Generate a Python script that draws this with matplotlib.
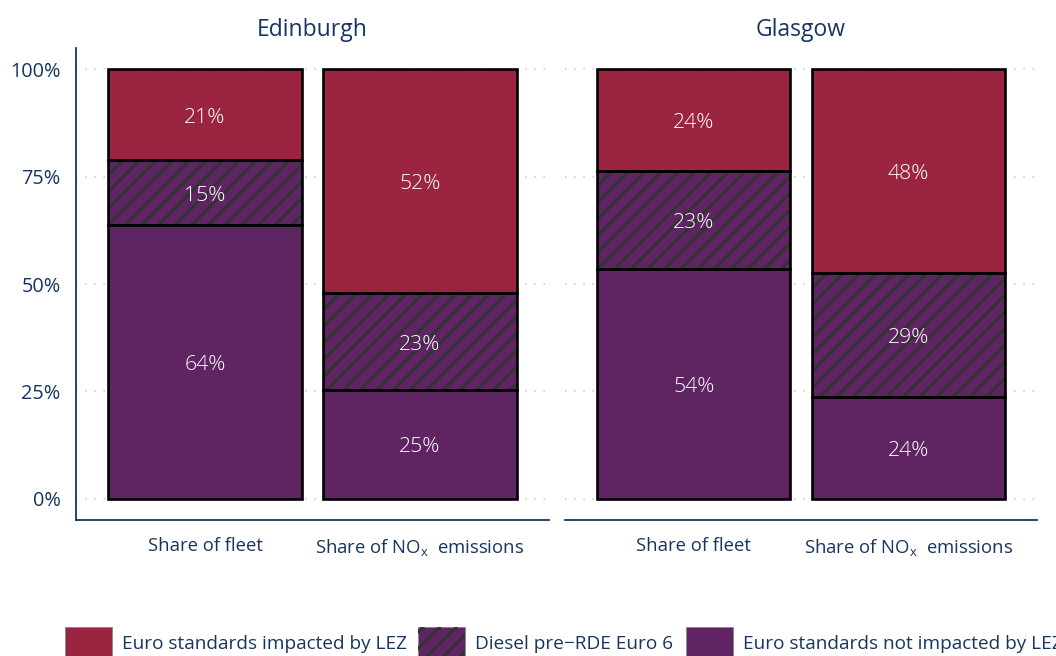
import matplotlib
matplotlib.use("Agg")
import matplotlib.pyplot as plt
from matplotlib.patches import Rectangle
import numpy as np

plt.rcParams['font.family'] = ['Open Sans', 'DejaVu Sans']
plt.rcParams['hatch.linewidth'] = 2.2

# ---- data ----
cities = ["Edinburgh", "Glasgow"]
categories = ["Share of fleet", "Share of NO$_\\mathregular{x}$  emissions"]
series = ["Euro standards not impacted by LEZ", "Diesel pre\u2212RDE Euro 6", "Euro standards impacted by LEZ"]
edinburgh_not_impacted = [63.7, 25.3]
edinburgh_diesel = [15.1, 22.6]
edinburgh_impacted = [21.2, 52.1]
glasgow_not_impacted = [53.6, 23.6]
glasgow_diesel = [22.8, 28.9]
glasgow_impacted = [23.6, 47.5]
yticks = [0, 25, 50, 75, 100]
ytick_labels = ["0%", "25%", "50%", "75%", "100%"]

data = {
    "Edinburgh": [edinburgh_not_impacted, edinburgh_diesel, edinburgh_impacted],
    "Glasgow": [glasgow_not_impacted, glasgow_diesel, glasgow_impacted],
}

RED = "#9B2540"
PURPLE = "#5F2563"
HATCHC = "#333333"
NAVY = "#173560"
colors = [PURPLE, PURPLE, RED]
hatches = [None, "//", None]

W, H = 1056, 656
fig = plt.figure(figsize=(W / 100, H / 100), dpi=100)

panels = [(76, 48, 473, 472), (565, 48, 472, 472)]
for pi, city in enumerate(cities):
    x0, y0, w, h = panels[pi]
    ax = fig.add_axes([x0 / W, 1 - (y0 + h) / H, w / W, h / H])
    xs = np.arange(1, len(categories) + 1)
    bottoms = np.zeros(len(categories))
    for si, vals in enumerate(data[city]):
        vals = np.array(vals)
        ax.bar(xs, vals, 0.9, bottom=bottoms, color=colors[si], linewidth=0, zorder=2)
        if hatches[si]:
            ax.bar(xs, vals, 0.9, bottom=bottoms, facecolor="none", edgecolor=HATCHC,
                   hatch=hatches[si], linewidth=0, zorder=3)
        ax.bar(xs, vals, 0.9, bottom=bottoms, facecolor="none", edgecolor="black",
               linewidth=1.9, zorder=4)
        for x, b, v in zip(xs, bottoms, vals):
            ax.annotate(f"{v:.0f}%", xy=(x, b + v / 2), xytext=(0, -2.2),
                        textcoords="offset points", ha="center", va="center",
                        color="white", fontsize=15.3, fontweight="light", zorder=5)
        bottoms = bottoms + vals
    ax.set_xlim(0.4, 2.6)
    ax.set_ylim(-5, 105)
    for t in yticks:
        ax.axhline(t, color="#C8C8C8", linewidth=1.1, linestyle=(0, (1, 5)), zorder=1)
    ax.set_yticks(yticks)
    ax.set_xticks(xs)
    ax.set_xticklabels(categories, color=NAVY, fontsize=13.3)
    ax.tick_params(axis="both", length=0)
    ax.tick_params(axis="x", pad=12)
    ax.tick_params(axis="y", pad=11)
    if pi == 0:
        ax.set_yticklabels(ytick_labels, color=NAVY, fontsize=14.3)
        ax.spines["left"].set_color(NAVY)
        ax.spines["left"].set_linewidth(1.3)
    else:
        ax.set_yticklabels([])
        ax.spines["left"].set_visible(False)
    ax.spines["top"].set_visible(False)
    ax.spines["right"].set_visible(False)
    ax.spines["bottom"].set_color(NAVY)
    ax.spines["bottom"].set_linewidth(1.3)
    ax.set_title(city, color=NAVY, fontsize=16.5, pad=9)

# ---- legend (bottom, clipped at the right edge like the reference) ----
leg_items = [
    (RED, None, "Euro standards impacted by LEZ", 65),
    (PURPLE, "//", "Diesel pre\u2212RDE Euro 6", 418),
    (PURPLE, None, "Euro standards not impacted by LEZ", 686),
]
for col, hat, lab, px in leg_items:
    r = Rectangle((px / W, -6 / H), 47 / W, 35 / H, transform=fig.transFigure,
                  facecolor=col, edgecolor="#888888", linewidth=0.6)
    fig.add_artist(r)
    if hat:
        r2 = Rectangle((px / W, -6 / H), 47 / W, 35 / H, transform=fig.transFigure,
                       facecolor="none", edgecolor=HATCHC, hatch=hat, linewidth=0)
        fig.add_artist(r2)
    fig.text((px + 57) / W, 1 - 644 / H, lab, color=NAVY, fontsize=13.7, va="center", ha="left")

fig.savefig("out.png", dpi=100)
